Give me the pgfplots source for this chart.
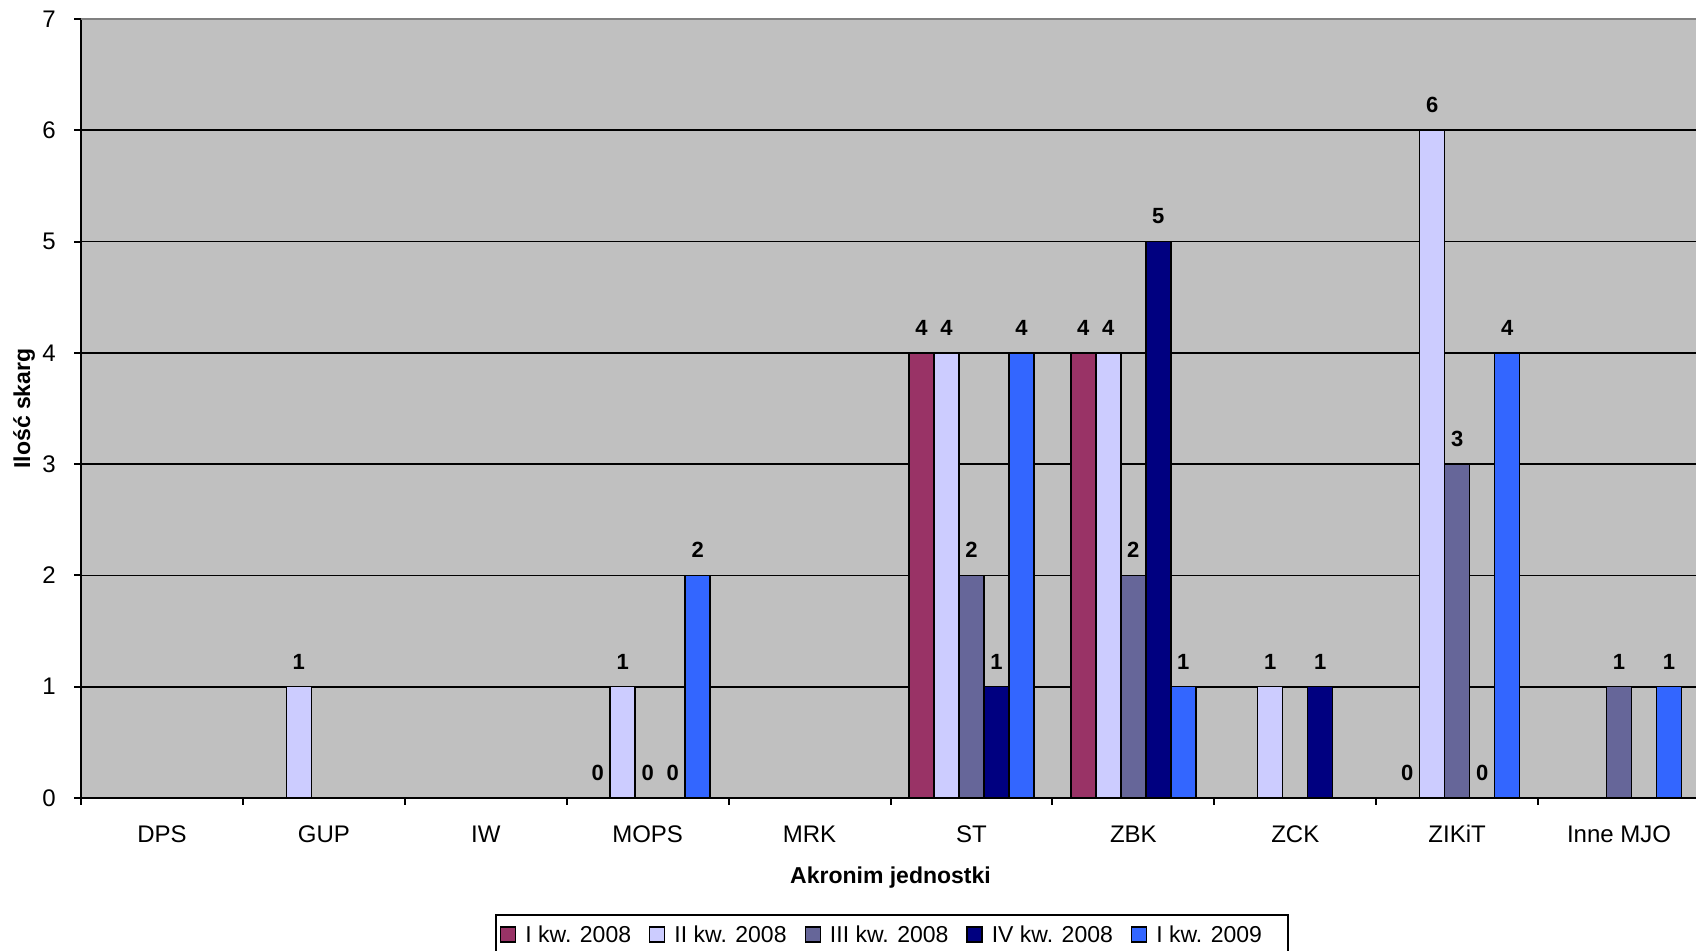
\documentclass[border=0pt]{standalone}
\usepackage{pgfplots}
\pgfplotsset{compat=1.18}
\usepackage{fontspec}
\setmainfont{Liberation Sans}

\definecolor{kwIa}{HTML}{993366}
\definecolor{kwII}{HTML}{CCCCFF}
\definecolor{kwIII}{HTML}{666699}
\definecolor{kwIV}{HTML}{000080}
\definecolor{kwIb}{HTML}{3366FF}
\definecolor{plotbg}{HTML}{C0C0C0}
\definecolor{plotframe}{HTML}{808080}

\pgfplotsset{
  qbar/.style={fill=#1, draw=black, line width=0.7pt,
    legend image code/.code={\draw[##1, line width=0.7pt] (0pt,-3.75pt) rectangle (7.5pt,3.75pt);}},
}

\begin{document}
\begin{tikzpicture}
\path[use as bounding box] (0,0) rectangle (848pt,475.5pt);
\clip (0,0) rectangle (848pt,475.5pt);
\begin{axis}[
  at={(40.5pt,76.5pt)}, anchor=south west,
  scale only axis, width=809.5pt, height=389.5pt,
  xmin=-0.5, xmax=9.5, ymin=0, ymax=7,
  axis lines=left,
  axis line style={-, line width=1.1pt, black},
  axis background/.style={fill=plotbg},
  ybar=0pt, bar width=12.5pt,
  xtick={-0.5,0.5,1.5,2.5,3.5,4.5,5.5,6.5,7.5,8.5,9.5},
  xticklabels={DPS,GUP,IW,MOPS,MRK,ST,ZBK,ZCK,ZIKiT,Inne MJO,},
  ytick={0,1,2,3,4,5,6,7},
  tick align=outside,
  major tick length=3.5pt,
  tick style={black, line width=1pt},
  ymajorgrids,
  grid style={black, line width=0.8pt},
  /pgf/number format/assume math mode=true,
  every tick label/.append style={font=\fontsize{12}{14}\selectfont},
  xticklabel style={anchor=base, inner sep=0pt, yshift=-18.6pt, xshift=40.475pt},
  yticklabel style={anchor=east, inner sep=0pt, xshift=-9pt},
  xlabel={\bfseries Akronim jednostki},
  xlabel style={at={(axis description cs:0.5,0)}, anchor=base, yshift=-43pt,
    font=\fontsize{11.5}{13}\selectfont},
  ylabel={\bfseries Ilość skarg},
  ylabel style={at={(axis description cs:-0.0352,0.5)}, anchor=center,
    font=\fontsize{11.5}{13}\selectfont},
  nodes near coords,
  nodes near coords style={font=\bfseries\fontsize{11}{13}\selectfont,
    anchor=south, inner sep=0pt, yshift=8.5pt, black},
  legend columns=5,
  legend cell align=left,
  legend style={at={(0.2557,-0.1489)}, anchor=north west,
    draw=black, line width=1pt, fill=white,
    inner xsep=2pt, inner ysep=5.5pt,
    nodes={inner sep=0pt, text depth=0pt},
    font=\fontsize{11.5}{13}\selectfont,
    /tikz/every odd column/.append style={column sep=4.5pt},
    /tikz/every even column/.append style={column sep=9pt}},
]
% I kw. 2008
\addplot[qbar=kwIa] coordinates {(3,0) (5,4) (6,4) (8,0)};
% II kw. 2008
\addplot[qbar=kwII] coordinates {(1,1) (3,1) (5,4) (6,4) (7,1) (8,6)};
% III kw. 2008
\addplot[qbar=kwIII] coordinates {(3,0) (5,2) (6,2) (8,3) (9,1)};
% IV kw. 2008
\addplot[qbar=kwIV] coordinates {(3,0) (5,1) (6,5) (7,1) (8,0)};
% I kw. 2009
\addplot[qbar=kwIb] coordinates {(3,2) (5,4) (6,1) (8,4) (9,1)};
\legend{I kw. 2008, II kw. 2008, III kw. 2008, IV kw. 2008, I kw. 2009\hspace*{11pt}}
% upper frame of the plot area
\draw[plotframe, line width=1pt] (rel axis cs:0,1) -- (rel axis cs:1,1);
\end{axis}
\end{tikzpicture}
\end{document}
